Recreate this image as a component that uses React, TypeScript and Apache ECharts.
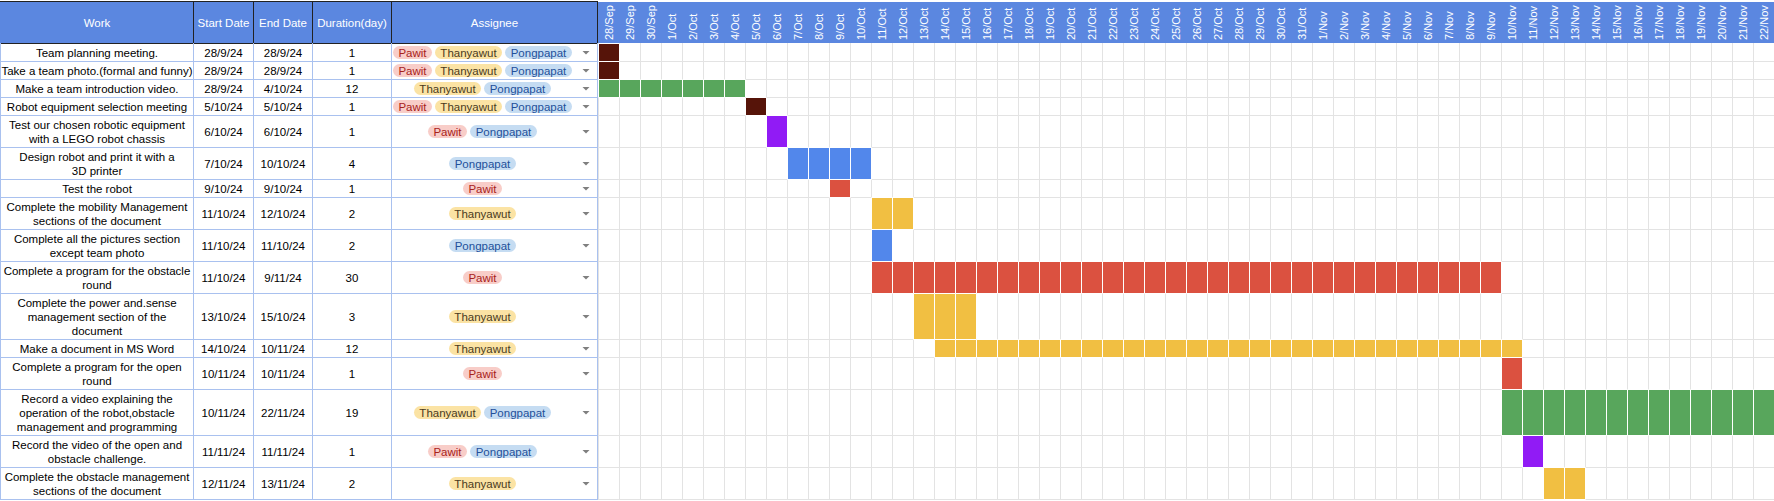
import React, { useEffect, useRef } from "react";
import * as echarts from "echarts";

const FONT = "Arial, 'Liberation Sans', sans-serif";

// ---------- data ----------
const headers = ["Work", "Start Date", "End Date", "Duration(day)", "Assignee"];

const tasks = [
  "Team planning meeting.",
  "Take a team photo.(formal and funny)",
  "Make a team introduction video.",
  "Robot equipment selection meeting",
  "Test our chosen robotic equipment\nwith a LEGO robot chassis",
  "Design robot and print it with a\n3D printer",
  "Test the robot",
  "Complete the mobility Management\nsections of the document",
  "Complete all the pictures section\nexcept team photo",
  "Complete a program for the obstacle\nround",
  "Complete the power and.sense\nmanagement section of the\ndocument",
  "Make a document in MS Word",
  "Complete a program for the open\nround",
  "Record a video explaining the\noperation of the robot,obstacle\nmanagement and programming",
  "Record the video of the open and\nobstacle challenge.",
  "Complete the obstacle management\nsections of the document",
];

const startDates = [
  "28/9/24", "28/9/24", "28/9/24", "5/10/24", "6/10/24", "7/10/24", "9/10/24", "11/10/24",
  "11/10/24", "11/10/24", "13/10/24", "14/10/24", "10/11/24", "10/11/24", "11/11/24", "12/11/24",
];

const endDates = [
  "28/9/24", "28/9/24", "4/10/24", "5/10/24", "6/10/24", "10/10/24", "9/10/24", "12/10/24",
  "11/10/24", "9/11/24", "15/10/24", "10/11/24", "10/11/24", "22/11/24", "11/11/24", "13/11/24",
];

const durations = [1, 1, 12, 1, 1, 4, 1, 2, 2, 30, 3, 12, 1, 19, 1, 2];

const assignees = [
  ["Pawit", "Thanyawut", "Pongpapat"],
  ["Pawit", "Thanyawut", "Pongpapat"],
  ["Thanyawut", "Pongpapat"],
  ["Pawit", "Thanyawut", "Pongpapat"],
  ["Pawit", "Pongpapat"],
  ["Pongpapat"],
  ["Pawit"],
  ["Thanyawut"],
  ["Pongpapat"],
  ["Pawit"],
  ["Thanyawut"],
  ["Thanyawut"],
  ["Pawit"],
  ["Thanyawut", "Pongpapat"],
  ["Pawit", "Pongpapat"],
  ["Thanyawut"],
];

const days = [
  "28/Sep", "29/Sep", "30/Sep",
  "1/Oct", "2/Oct", "3/Oct", "4/Oct", "5/Oct", "6/Oct", "7/Oct", "8/Oct", "9/Oct", "10/Oct",
  "11/Oct", "12/Oct", "13/Oct", "14/Oct", "15/Oct", "16/Oct", "17/Oct", "18/Oct", "19/Oct", "20/Oct",
  "21/Oct", "22/Oct", "23/Oct", "24/Oct", "25/Oct", "26/Oct", "27/Oct", "28/Oct", "29/Oct", "30/Oct", "31/Oct",
  "1/Nov", "2/Nov", "3/Nov", "4/Nov", "5/Nov", "6/Nov", "7/Nov", "8/Nov", "9/Nov", "10/Nov",
  "11/Nov", "12/Nov", "13/Nov", "14/Nov", "15/Nov", "16/Nov", "17/Nov", "18/Nov", "19/Nov", "20/Nov",
  "21/Nov", "22/Nov",
];

const barFrom = [
  "28/Sep", "28/Sep", "28/Sep", "5/Oct", "6/Oct", "7/Oct", "9/Oct", "11/Oct",
  "11/Oct", "11/Oct", "13/Oct", "14/Oct", "10/Nov", "10/Nov", "11/Nov", "12/Nov",
];
const barTo = [
  "28/Sep", "28/Sep", "4/Oct", "5/Oct", "6/Oct", "10/Oct", "9/Oct", "12/Oct",
  "11/Oct", "9/Nov", "15/Oct", "10/Nov", "10/Nov", "22/Nov", "11/Nov", "13/Nov",
];

// ---------- styles ----------
const barColors = [
  "#561409", "#561409", "#58a65c", "#561409", "#911bf5", "#5287eb", "#db5140", "#f1bf42",
  "#5287eb", "#db5140", "#f1bf42", "#f1bf42", "#db5140", "#58a65c", "#911bf5", "#f1bf42",
];

const chipStyles: Record<string, { bg: string; fg: string }> = {
  Pawit: { bg: "#f8cdc8", fg: "#a8221b" },
  Thanyawut: { bg: "#fbe3a4", fg: "#4a3b1d" },
  Pongpapat: { bg: "#c5dcf2", fg: "#22509a" },
};

const HEADER_BLUE = "#5b87e0";
const TABLE_LINE = "#a9c1ef";
const GRID_GRAY = "#e3e3e3";
const DARK_LINE = "#222222";

// ---------- layout ----------
const W = 1774;
const H = 501;
const COL_EDGES = [0, 193, 253, 312, 391, 597];
const HEADER_TOP = 2;
const HEADER_BOTTOM = 43;
const LINE_H = 14;
const GANTT_LEFT = 598;
const FONT_SIZE = 11.5;
const CHIP_H = 13;
const CHIP_PAD = 5.5;
const CHIP_GAP = 3;
const CHIP_CENTER = 482.5;
const ARROW_X = 586;

function measure(text: string): number {
  const c = document.createElement("canvas");
  const ctx = c.getContext("2d")!;
  ctx.font = `${FONT_SIZE}px ${FONT}`;
  return ctx.measureText(text).width;
}

export default function App() {
  const ref = useRef<HTMLDivElement>(null);

  useEffect(() => {
    document.body.style.margin = "0";
    document.body.style.overflow = "hidden";
    const chart = echarts.init(ref.current!, null, { renderer: "svg" });

    const rowLines = tasks.map((t) => t.split("\n").length);
    const rowH = rowLines.map((n) => n * LINE_H + 4);
    const tops: number[] = [];
    let acc = 0;
    rowH.forEach((h) => {
      tops.push(acc);
      acc += h;
    });
    const total = acc;
    const bottoms = tops.map((t, i) => t + rowH[i]);

    const chipWidths: Record<string, number> = {};
    Object.keys(chipStyles).forEach((n) => {
      chipWidths[n] = Math.round(measure(n) + CHIP_PAD * 2);
    });

    const tableData = tasks.map((_, i) => [0, tops[i], bottoms[i], i]);
    const barData = barFrom.map((d, i) => [
      days.indexOf(d),
      tops[i],
      bottoms[i],
      days.indexOf(barTo[i]),
      i,
    ]);

    const headerGraphics: any[] = [
      {
        type: "rect",
        z: 1,
        shape: { x: 0, y: HEADER_TOP, width: W, height: HEADER_BOTTOM - HEADER_TOP },
        style: { fill: HEADER_BLUE },
      },
      {
        type: "line",
        z: 2,
        shape: { x1: 0, y1: HEADER_TOP - 0.5, x2: GANTT_LEFT, y2: HEADER_TOP - 0.5 },
        style: { stroke: DARK_LINE, lineWidth: 1 },
      },
      {
        type: "line",
        z: 2,
        shape: { x1: 0, y1: HEADER_BOTTOM + 0.5, x2: GANTT_LEFT, y2: HEADER_BOTTOM + 0.5 },
        style: { stroke: DARK_LINE, lineWidth: 1 },
      },
    ];
    COL_EDGES.slice(1).forEach((x) => {
      headerGraphics.push({
        type: "line",
        z: 2,
        shape: { x1: x + 0.5, y1: HEADER_TOP - 1, x2: x + 0.5, y2: HEADER_BOTTOM + 1 },
        style: { stroke: DARK_LINE, lineWidth: 1 },
      });
    });
    headers.forEach((h, c) => {
      headerGraphics.push({
        type: "text",
        z: 3,
        style: {
          text: h,
          x: (COL_EDGES[c] + COL_EDGES[c + 1]) / 2 + 0.5,
          y: (HEADER_TOP + HEADER_BOTTOM) / 2 + 0.5,
          align: "center",
          verticalAlign: "middle",
          fontSize: FONT_SIZE,
          fontFamily: FONT,
          fill: "#ffffff",
        },
      });
    });

    const option: any = {
      animation: false,
      grid: {
        left: GANTT_LEFT,
        top: HEADER_BOTTOM,
        width: W - GANTT_LEFT,
        height: total,
        containLabel: false,
      },
      xAxis: {
        type: "category",
        data: days,
        position: "top",
        boundaryGap: true,
        z: 5,
        axisLine: { show: false },
        axisTick: { show: false },
        axisLabel: {
          rotate: 90,
          interval: 0,
          color: "#ffffff",
          fontSize: 11,
          fontFamily: FONT,
          margin: 3,
        },
        splitLine: { show: true, interval: 0, lineStyle: { color: GRID_GRAY, width: 1 } },
      },
      yAxis: {
        type: "value",
        min: 0,
        max: total,
        inverse: true,
        show: false,
      },
      graphic: headerGraphics,
      series: [
        {
          type: "custom",
          name: "table",
          z: 6,
          clip: false,
          silent: true,
          encode: { x: 0, y: 1 },
          data: tableData,
          renderItem: (params: any, api: any) => {
            const i = api.value(3) as number;
            const yt = Math.round(api.coord([0, api.value(1)])[1]);
            const yb = Math.round(api.coord([0, api.value(2)])[1]);
            const yc = (yt + yb) / 2 + 0.5;
            const children: any[] = [];
            children.push({
              type: "line",
              shape: { x1: GANTT_LEFT, y1: yb + 0.5, x2: W, y2: yb + 0.5 },
              style: { stroke: GRID_GRAY, lineWidth: 1 },
            });
            children.push({
              type: "line",
              shape: { x1: 0, y1: yb + 0.5, x2: GANTT_LEFT, y2: yb + 0.5 },
              style: { stroke: TABLE_LINE, lineWidth: 1 },
            });
            COL_EDGES.forEach((x) => {
              children.push({
                type: "line",
                shape: { x1: x + 0.5, y1: yt, x2: x + 0.5, y2: yb + 1 },
                style: { stroke: TABLE_LINE, lineWidth: 1 },
              });
            });
            const cells = [tasks[i], startDates[i], endDates[i], String(durations[i])];
            cells.forEach((t, c) => {
              children.push({
                type: "text",
                style: {
                  text: t,
                  x: (COL_EDGES[c] + COL_EDGES[c + 1]) / 2 + 0.5,
                  y: yc,
                  align: "center",
                  verticalAlign: "middle",
                  fontSize: FONT_SIZE,
                  fontFamily: FONT,
                  lineHeight: LINE_H,
                  fill: "#000000",
                },
              });
            });
            const names = assignees[i];
            const widths = names.map((n) => chipWidths[n]);
            const totalW =
              widths.reduce((a, b) => a + b, 0) + CHIP_GAP * (names.length - 1);
            let x = Math.round(CHIP_CENTER - totalW / 2);
            names.forEach((n, k) => {
              children.push({
                type: "rect",
                shape: { x, y: yc - CHIP_H / 2, width: widths[k], height: CHIP_H, r: CHIP_H / 2 },
                style: { fill: chipStyles[n].bg },
              });
              children.push({
                type: "text",
                style: {
                  text: n,
                  x: x + widths[k] / 2,
                  y: yc,
                  align: "center",
                  verticalAlign: "middle",
                  fontSize: FONT_SIZE,
                  fontFamily: FONT,
                  fill: chipStyles[n].fg,
                },
              });
              x += widths[k] + CHIP_GAP;
            });
            children.push({
              type: "polygon",
              shape: {
                points: [
                  [ARROW_X - 3.5, yc - 1.5],
                  [ARROW_X + 3.5, yc - 1.5],
                  [ARROW_X, yc + 2],
                ],
              },
              style: { fill: "#7f7f7f" },
            });
            return { type: "group", children };
          },
        },
        {
          type: "custom",
          name: "bars",
          z: 10,
          clip: false,
          silent: true,
          encode: { x: 0, y: 1 },
          data: barData,
          renderItem: (params: any, api: any) => {
            const s = api.value(0) as number;
            const e = api.value(3) as number;
            const ci = api.value(4) as number;
            const yt = Math.round(api.coord([s, api.value(1)])[1]);
            const yb = Math.round(api.coord([s, api.value(2)])[1]);
            const bw = api.size([1, 0])[0];
            const children: any[] = [];
            for (let k = s; k <= e; k++) {
              const xl = Math.round(api.coord([k, 0])[0] - bw / 2);
              children.push({
                type: "rect",
                shape: { x: xl + 0.5, y: yt + 0.5, width: Math.round(bw), height: yb - yt },
                style: { fill: barColors[ci], stroke: "#ffffff", lineWidth: 1 },
              });
            }
            return { type: "group", children };
          },
        },
      ],
    };

    chart.setOption(option);
    return () => chart.dispose();
  }, []);

  return <div ref={ref} style={{ width: W, height: H, display: "block" }} />;
}
